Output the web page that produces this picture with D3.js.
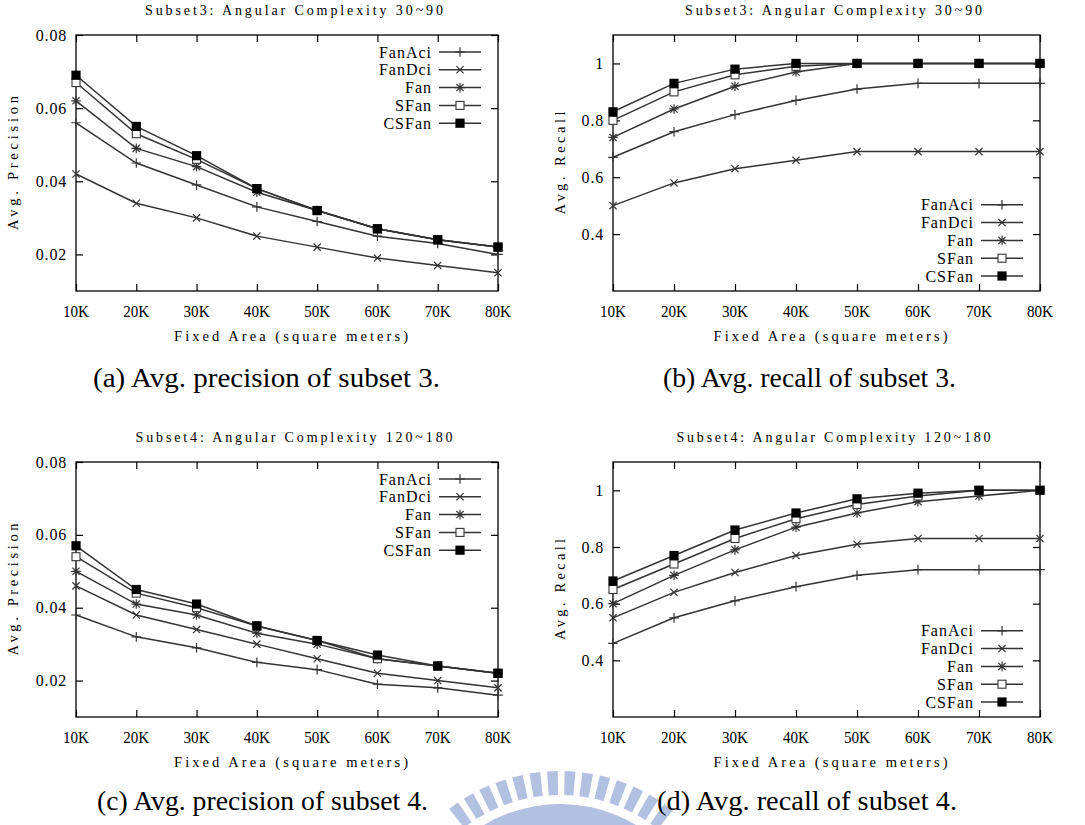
<!DOCTYPE html>
<html>
<head>
<meta charset="utf-8">
<script src="https://cdn.jsdelivr.net/npm/d3@7"></script>
<style>
  body { margin: 0; background: #fff; }
  svg text { font-family: "Liberation Serif", "DejaVu Serif", serif; fill: #000; }
  svg text.cap { font-family: "Liberation Serif", "DejaVu Serif", serif; }
</style>
</head>
<body>
<svg width="1085" height="825"></svg>
<script>
// ---- data ----
const areas = [10, 20, 30, 40, 50, 60, 70, 80];
const areaLabels = ["10K", "20K", "30K", "40K", "50K", "60K", "70K", "80K"];
const methods = ["FanAci", "FanDci", "Fan", "SFan", "CSFan"];
const markers = ["plus", "cross", "star", "box", "fbox"];

const precTicks = [0.02, 0.04, 0.06, 0.08];
const recallTicks = [0.4, 0.6, 0.8, 1];

// subset 3 precision, one row per method (same order as methods)
const prec3 = [
  [0.056, 0.045, 0.039, 0.033, 0.029, 0.025, 0.023, 0.020],
  [0.042, 0.034, 0.030, 0.025, 0.022, 0.019, 0.017, 0.015],
  [0.062, 0.049, 0.044, 0.037, 0.032, 0.027, 0.024, 0.022],
  [0.067, 0.053, 0.046, 0.038, 0.032, 0.027, 0.024, 0.022],
  [0.069, 0.055, 0.047, 0.038, 0.032, 0.027, 0.024, 0.022]
];
// subset 3 recall
const recall3 = [
  [0.67, 0.76, 0.82, 0.87, 0.91, 0.93, 0.93, 0.93],
  [0.50, 0.58, 0.63, 0.66, 0.69, 0.69, 0.69, 0.69],
  [0.74, 0.84, 0.92, 0.97, 1.00, 1.00, 1.00, 1.00],
  [0.80, 0.90, 0.96, 0.99, 1.00, 1.00, 1.00, 1.00],
  [0.83, 0.93, 0.98, 1.00, 1.00, 1.00, 1.00, 1.00]
];
// subset 4 precision
const prec4 = [
  [0.038, 0.032, 0.029, 0.025, 0.023, 0.019, 0.018, 0.016],
  [0.046, 0.038, 0.034, 0.030, 0.026, 0.022, 0.020, 0.018],
  [0.050, 0.041, 0.038, 0.033, 0.030, 0.026, 0.024, 0.022],
  [0.054, 0.044, 0.040, 0.035, 0.031, 0.026, 0.024, 0.022],
  [0.057, 0.045, 0.041, 0.035, 0.031, 0.027, 0.024, 0.022]
];
// subset 4 recall
const recall4 = [
  [0.46, 0.55, 0.61, 0.66, 0.70, 0.72, 0.72, 0.72],
  [0.55, 0.64, 0.71, 0.77, 0.81, 0.83, 0.83, 0.83],
  [0.60, 0.70, 0.79, 0.87, 0.92, 0.96, 0.98, 1.00],
  [0.65, 0.74, 0.83, 0.90, 0.95, 0.98, 1.00, 1.00],
  [0.68, 0.77, 0.86, 0.92, 0.97, 0.99, 1.00, 1.00]
];

const panels = [
  {left: 76,  right: 498,  top: 35,  bottom: 291, title: "Subset3: Angular Complexity 30~90",  titleLen: 298,
   ylab: "Avg. Precision", ylabLen: 134, ylabOff: 58, domain: [0.01, 0.08], ticks: precTicks, fmt: d3.format(".2f"),
   values: prec3, legend: "top", caption: "(a) Avg. precision of subset 3.", capX: 93, capLen: 347, capY: 387},
  {left: 613, right: 1040, top: 35,  bottom: 291, title: "Subset3: Angular Complexity 30~90",  titleLen: 297,
   ylab: "Avg. Recall", ylabLen: 103, ylabOff: 48, domain: [0.2, 1.1], ticks: recallTicks, fmt: d => d === 1 ? "1" : d3.format(".1f")(d),
   values: recall3, legend: "bottom", caption: "(b) Avg. recall of subset 3.", capX: 663, capLen: 293, capY: 387},
  {left: 76,  right: 498,  top: 462, bottom: 717, title: "Subset4: Angular Complexity 120~180", titleLen: 317,
   ylab: "Avg. Precision", ylabLen: 132, ylabOff: 58, domain: [0.01, 0.08], ticks: precTicks, fmt: d3.format(".2f"),
   values: prec4, legend: "top", caption: "(c) Avg. precision of subset 4.", capX: 97, capLen: 331, capY: 810},
  {left: 613, right: 1040, top: 462, bottom: 717, title: "Subset4: Angular Complexity 120~180", titleLen: 314,
   ylab: "Avg. Recall", ylabLen: 101, ylabOff: 48, domain: [0.2, 1.1], ticks: recallTicks, fmt: d => d === 1 ? "1" : d3.format(".1f")(d),
   values: recall4, legend: "bottom", caption: "(d) Avg. recall of subset 4.", capX: 657, capLen: 300, capY: 810}
];

const svg = d3.select("svg");
const lineColor = "#333";

// ---- watermark (faint logo behind everything) ----
const wm = svg.append("g").attr("transform", "translate(560,952)").attr("fill", "#b2c1e1");
const stripeAngles = d3.range(-36, 42, 5.6);
stripeAngles.forEach(function(a) {
  wm.append("path").attr("d", d3.arc()({
    innerRadius: 157, outerRadius: 181,
    startAngle: (a - 1.7) * Math.PI / 180, endAngle: (a + 1.7) * Math.PI / 180
  }));
});
wm.append("path").attr("d", d3.arc()({
  innerRadius: 118, outerRadius: 148,
  startAngle: -42 * Math.PI / 180, endAngle: 44 * Math.PI / 180
}));

function drawMarker(g, type, cx, cy) {
  let s = 4.8, c = 3.6, b = 4;
  if (type === "plus") {
    g.append("path").attr("d", `M${cx - s},${cy}H${cx + s}M${cx},${cy - s}V${cy + s}`)
      .attr("stroke", lineColor).attr("stroke-width", 1.2).attr("fill", "none");
  } else if (type === "cross") {
    g.append("path").attr("d", `M${cx - c},${cy - c}L${cx + c},${cy + c}M${cx - c},${cy + c}L${cx + c},${cy - c}`)
      .attr("stroke", lineColor).attr("stroke-width", 1.2).attr("fill", "none");
  } else if (type === "star") {
    g.append("path").attr("d", `M${cx - s},${cy}H${cx + s}M${cx},${cy - s}V${cy + s}` +
        `M${cx - c},${cy - c}L${cx + c},${cy + c}M${cx - c},${cy + c}L${cx + c},${cy - c}`)
      .attr("stroke", lineColor).attr("stroke-width", 1.2).attr("fill", "none");
  } else if (type === "box") {
    g.append("rect").attr("x", cx - b).attr("y", cy - b).attr("width", 2 * b).attr("height", 2 * b)
      .attr("fill", "#fff").attr("stroke", lineColor).attr("stroke-width", 1.1);
  } else {
    g.append("rect").attr("x", cx - 4.6).attr("y", cy - 4.6).attr("width", 9.2).attr("height", 9.2)
      .attr("fill", "#000");
  }
}

panels.forEach(function(p) {
  let g = svg.append("g");
  let x = d3.scaleLinear().domain([areas[0], areas[areas.length - 1]]).range([p.left, p.right]);
  let y = d3.scaleLinear().domain(p.domain).range([p.bottom, p.top]);
  let w = p.right - p.left, h = p.bottom - p.top;

  // bottom / left axes with inward ticks, mirrored on top / right
  g.append("g").attr("transform", "translate(0," + p.bottom + ")")
    .call(d3.axisTop(x).tickValues(areas).tickSize(7).tickFormat(""));
  g.append("g").attr("transform", "translate(0," + p.top + ")")
    .call(d3.axisBottom(x).tickValues(areas).tickSize(7).tickFormat(""));
  g.append("g").attr("transform", "translate(" + p.left + ",0)")
    .call(d3.axisRight(y).tickValues(p.ticks).tickSize(7).tickFormat(""));
  g.append("g").attr("transform", "translate(" + p.right + ",0)")
    .call(d3.axisLeft(y).tickValues(p.ticks).tickSize(7).tickFormat(""));
  g.selectAll(".domain").remove();
  g.selectAll(".tick line").attr("stroke", "#000").attr("stroke-width", 1.2);

  g.append("rect").attr("x", p.left).attr("y", p.top).attr("width", w).attr("height", h)
    .attr("fill", "none").attr("stroke", "#000").attr("stroke-width", 1.3);

  // tick labels
  g.selectAll(".xl").data(areas).enter().append("text")
    .attr("x", d => x(d)).attr("y", p.bottom + 26)
    .attr("text-anchor", "middle").attr("font-size", 16)
    .attr("textLength", 26).attr("lengthAdjust", "spacingAndGlyphs")
    .text((d, i) => areaLabels[i]);
  g.selectAll(".yl").data(p.ticks).enter().append("text")
    .attr("x", p.left - 9).attr("y", d => y(d) + 5.5)
    .attr("text-anchor", "end").attr("font-size", 16).attr("letter-spacing", 0.8)
    .text(p.fmt);

  // titles
  g.append("text").attr("x", (p.left + p.right) / 2 + 7).attr("y", p.top - 20)
    .attr("text-anchor", "middle").attr("font-size", 14)
    .attr("textLength", p.titleLen).attr("lengthAdjust", "spacing").text(p.title);
  g.append("text").attr("x", (p.left + p.right) / 2 + 4).attr("y", p.bottom + 50)
    .attr("text-anchor", "middle").attr("font-size", 14.5)
    .attr("textLength", 234).attr("lengthAdjust", "spacing").text("Fixed Area (square meters)");
  g.append("text")
    .attr("transform", "translate(" + (p.left - p.ylabOff) + "," + ((p.top + p.bottom) / 2) + ") rotate(-90)")
    .attr("text-anchor", "middle").attr("font-size", 14.5)
    .attr("textLength", p.ylabLen).attr("lengthAdjust", "spacing").text(p.ylab);

  // series
  let line = d3.line().x(d => x(d[0])).y(d => y(d[1]));
  p.values.forEach(function(vals, si) {
    let pts = areas.map((a, i) => [a, vals[i]]);
    g.append("path").datum(pts).attr("d", line)
      .attr("fill", "none").attr("stroke", lineColor).attr("stroke-width", 1.5);
  });
  p.values.forEach(function(vals, si) {
    areas.forEach(function(a, i) { drawMarker(g, markers[si], x(a), y(vals[i])); });
  });

  // legend
  let firstRow = p.legend === "top" ? p.top + 17 : p.bottom - 15 - 4 * 17.8;
  methods.forEach(function(m, i) {
    let ly = firstRow + i * 17.8;
    g.append("text").attr("x", p.right - 66).attr("y", ly + 5.5)
      .attr("text-anchor", "end").attr("font-size", 16).attr("letter-spacing", 1)
      .text(m);
    g.append("line").attr("x1", p.right - 59).attr("x2", p.right - 17).attr("y1", ly).attr("y2", ly)
      .attr("stroke", lineColor).attr("stroke-width", 1.5);
    drawMarker(g, markers[i], p.right - 38, ly);
  });

  // caption
  g.append("text").attr("class", "cap").attr("x", p.capX).attr("y", p.capY)
    .attr("font-size", 27).attr("textLength", p.capLen).attr("lengthAdjust", "spacingAndGlyphs")
    .text(p.caption);
});
</script>
</body>
</html>
